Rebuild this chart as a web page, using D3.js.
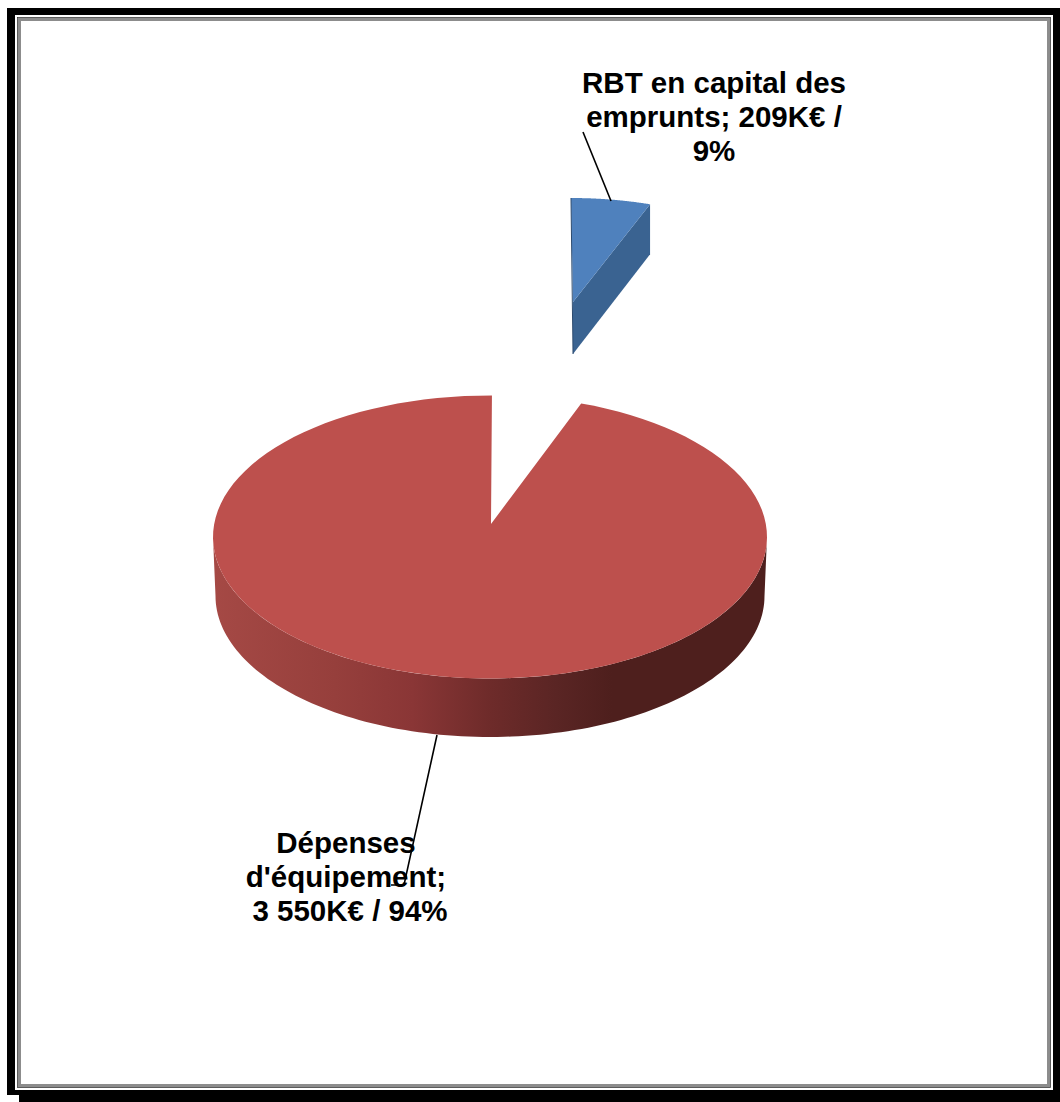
<!DOCTYPE html>
<html><head><meta charset="utf-8">
<script src="https://cdn.jsdelivr.net/npm/d3@7/dist/d3.min.js"></script>
<style>html,body{margin:0;padding:0;background:#fff}svg{display:block}</style>
</head><body><div id="c"></div>
<script>
const categories = ["RBT en capital des emprunts", "Dépenses d'équipement"];
const values = [209, 3550];
const labelLines = [["RBT en capital des","emprunts; 209K€ /","9%"],["Dépenses","d'équipement;","3 550K€ / 94%"]];
const colors = ["#4f81bd","#bd504d"];
const sideColors = ["#3a6391"];
const sideStops = [[0,"#a54945"],[0.22,"#963f3c"],[0.36,"#8a3636"],[0.5,"#6e2b2a"],[0.62,"#5a2524"],[0.72,"#4e1f1d"],[1,"#4e1f1d"]];

const W=1060,H=1102;
const svg=d3.select("#c").append("svg").attr("width",W).attr("height",H);

// frame
const frame=svg.append("g");
[[7,8,8,1087],[7,8,1053,7],[1053,8,7,1087],[7,1090,1053,5],[19,1095,1041,7]].forEach(r=>
  frame.append("rect").attr("x",r[0]).attr("y",r[1]).attr("width",r[2]).attr("height",r[3]).attr("fill","#000"));
frame.append("rect").attr("x",19.5).attr("y",19.5).attr("width",1029).attr("height",1066)
  .attr("fill","none").attr("stroke","#8c8c8c").attr("stroke-width",3);
frame.append("rect").attr("x",17.5).attr("y",17.5).attr("width",1033).attr("height",1070)
  .attr("fill","none").attr("stroke","#333").attr("stroke-width",0.8);

const arcs=d3.pie().sort(null).value(d=>d)(values);
const ell=(cx,cy,rx,ry)=>({x:d3.scaleLinear().domain([-1,1]).range([cx-rx,cx+rx]),
                           y:d3.scaleLinear().domain([-1,1]).range([cy-ry,cy+ry])});
const pt=(e,a)=>[e.x(Math.sin(a)),e.y(-Math.cos(a))];
const sweep=(e,a0,a1)=>d3.range(0,121).map(i=>pt(e,a0+(a1-a0)*i/120));
const line=d3.line().curve(d3.curveLinear);

const defs=svg.append("defs");
const grad=defs.append("linearGradient").attr("id","side").attr("gradientUnits","userSpaceOnUse")
  .attr("x1",213).attr("x2",767).attr("y1",0).attr("y2",0);
grad.selectAll("stop").data(sideStops).join("stop").attr("offset",d=>d[0]).attr("stop-color",d=>d[1]);

// large slice
const topE=ell(490,537,277,141.5), botE=ell(490,596,274.5,141);
const rightA=Math.PI/2, leftA=Math.PI*1.5;
const sidePts=sweep(topE,rightA,leftA).concat(sweep(botE,leftA,rightA));
svg.append("path").attr("d",line(sidePts)+"Z").attr("fill","url(#side)");
const big=arcs[1];
const perspectiveTrim=[-0.014,0.007];
const bigPts=[[491,524]].concat(sweep(topE,big.startAngle+perspectiveTrim[0],big.endAngle+perspectiveTrim[1]));
svg.append("path").attr("d",line(bigPts)+"Z").attr("fill",colors[1]);

// small exploded slice
const s=arcs[0];
const sE=ell(571,302,231,104);
const apex=[573,302], apexLow=[573,354];
const endTop=pt(sE,s.endAngle);
svg.append("path").attr("d",line([apex,endTop,[endTop[0],endTop[1]+50],apexLow])+"Z").attr("fill",sideColors[0]);
svg.append("path").attr("d",line([apex].concat(sweep(sE,s.startAngle,s.endAngle)))+"Z").attr("fill",colors[0]);
svg.append("path").attr("d",line([pt(sE,s.startAngle),apexLow])).attr("stroke","#2c4a6e").attr("stroke-width",1).attr("fill","none");

// leaders
const leader=d3.line();
svg.append("path").attr("d",leader([[583,132],[611,201]])).attr("fill","none").attr("stroke","#000").attr("stroke-width",1.6);
svg.append("path").attr("d",leader([[437,735],[404,885],[391,885]])).attr("fill","none").attr("stroke","#000").attr("stroke-width",1.6);

// labels
const pos=[{x:714,y:93},{x:346,y:853}];
labelLines.forEach((ls,i)=>{
  const t=svg.append("text").attr("font-family","'Liberation Sans',Arial,sans-serif")
    .attr("font-weight","bold").attr("font-size",29.5).attr("fill","#000").attr("text-anchor","middle");
  ls.forEach((l,j)=>t.append("tspan").attr("x",pos[i].x+(i==1&&j==2?4:0)).attr("y",pos[i].y+j*34).text(l));
});
</script></body></html>
